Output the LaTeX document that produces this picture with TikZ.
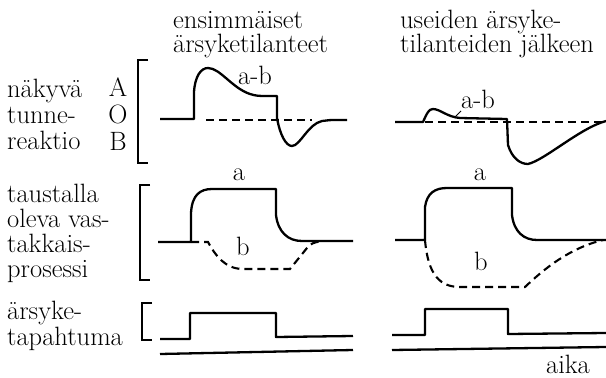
\documentclass[tikz,border=0pt]{standalone}
\usepackage{fontspec}
\newcommand\figfont{\fontsize{26.5}{30}\selectfont}
\begin{document}
\begin{tikzpicture}[x=1pt,y=-1pt,
  txt/.style={anchor=base west,inner sep=0pt,font=\figfont},
  lbl/.style={anchor=base,inner sep=0pt,font=\figfont},
  curve/.style={line width=2.3pt,line join=round},
  dcurve/.style={line width=2.1pt,dash pattern=on 8pt off 5pt},
  brk/.style={line width=2.3pt}]
\useasboundingbox (0,0) rectangle (606,378);
% headers
\node[txt] (h1a) at (173,28) {ensimmäiset};
\node[txt] (h1b) at (173,52) {ärsyketilanteet};
\node[txt] (h2a) at (400,28) {useiden ärsyke-};
\node[txt] (h2b) at (400,52) {tilanteiden jälkeen};
% left labels
\node[txt] (l1a) at (7,97) {näkyvä};
\node[txt] (l1b) at (7,123) {tunne-};
\node[txt] (l1c) at (7,149) {reaktio};
\node[lbl] (lA) at (118,96) {A};
\node[lbl] (lO) at (118,123) {O};
\node[lbl] (lB) at (118,150) {B};
\node[txt] (l2a) at (7,202) {taustalla};
\node[txt] (l2b) at (7,227) {oleva vas-};
\node[txt] (l2c) at (7,252) {takkais-};
\node[txt] (l2d) at (7,277) {prosessi};
\node[txt] (l3a) at (7,319.5) {ärsyke-};
\node[txt] (l3b) at (7,345) {tapahtuma};
% brackets
\draw[brk] (148,60) -- (138,60) -- (138,163) -- (148,163);
\draw[brk] (150,185) -- (140,185) -- (140,280) -- (150,280);
\draw[brk] (152,303) -- (142,303) -- (142,340) -- (152,340);
% curve labels
\node[lbl] (ab1) at (255,84) {a-b};
\node[lbl] (ab2) at (478,108) {a-b};
\node[lbl] (a1) at (239,180) {a};
\node[lbl] (a2) at (480,180) {a};
\node[lbl] (b1) at (243,255) {b};
\node[lbl] (b2) at (481,270) {b};
\node[lbl] (aika) at (568,373) {aika};
% top row left
\draw[dcurve] (206,120) -- (312,120);
\draw[curve] (160,119) -- (194,119) -- (194,92)
  .. controls (195,76) and (201,68) .. (208,68)
  .. controls (220,68) and (232,88) .. (250,94)
  .. controls (256,96) and (260,96) .. (266,96) -- (277,96) -- (277,118)
  .. controls (280,135) and (286,146) .. (292,146)
  .. controls (300,146) and (308,124) .. (322,121)
  .. controls (328,120) .. (347,120);
% top row right
\draw[dcurve] (425,122) -- (606,122);
\draw[curve] (395,122) -- (423,122)
  .. controls (427,113) and (429,109) .. (433,109)
  .. controls (440,109) and (447,117) .. (460,118) -- (507,119) -- (508,145)
  .. controls (512,158) and (520,164) .. (528,164)
  .. controls (545,160) and (580,128) .. (606,121);
\draw[line width=1pt] (461,111) -- (455,117);
% middle row left
\draw[dcurve] (191,242) -- (208,242)
  .. controls (215,255) and (225,269) .. (243,269) -- (290,269) -- (307,248)
  .. controls (312,243) .. (322,241);
\draw[curve] (158,242) -- (191,242) -- (191,213)
  .. controls (192,195) and (200,189) .. (212,189) -- (276,189) -- (276,215)
  .. controls (278,232) and (288,241) .. (302,241) -- (353,241);
% middle row right
\draw[dcurve] (425,240) .. controls (428,275) and (440,287) .. (460,287) -- (525,287)
  .. controls (545,268) and (570,248) .. (603,240);
\draw[curve] (395,240) -- (425,240) -- (425,207)
  .. controls (427,193) and (435,188) .. (447,188) -- (512,188) -- (512,215)
  .. controls (514,232) and (524,240) .. (537,240) -- (606,240);
% bottom row
\draw[curve] (160,339) -- (190,339) -- (190,313) -- (276,313) -- (276,337) -- (353,336);
\draw[curve] (160,354) -- (353,350);
\draw[curve] (392,335) -- (425,335) -- (425,309) -- (508,309) -- (508,334) -- (606,333);
\draw[curve] (392,350) -- (606,347);
\end{tikzpicture}
\end{document}
